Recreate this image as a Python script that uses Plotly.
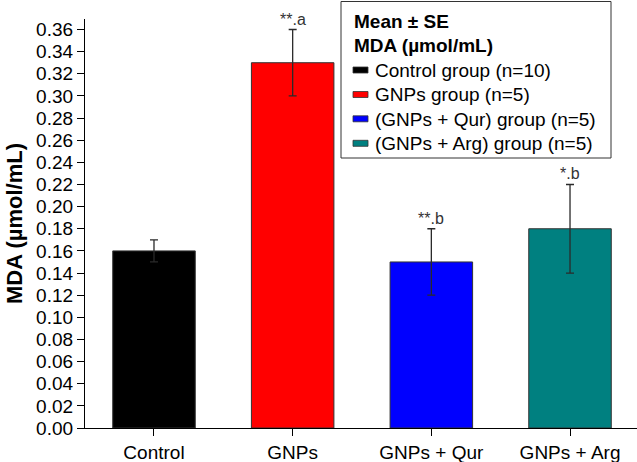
import plotly.graph_objects as go

categories = ["Control", "GNPs", "GNPs + Qur", "GNPs + Arg"]
legend_names = ["Control group (n=10)", "GNPs group (n=5)", "(GNPs + Qur) group (n=5)", "(GNPs + Arg) group (n=5)"]
legend_title = ["Mean ± SE", "MDA (µmol/mL)"]
means = [0.16, 0.33, 0.15, 0.18]
errors = [0.01, 0.03, 0.03, 0.04]
sig_labels = ["", "**.a", "**.b", "*.b"]
colors = ["#000000", "#ff0000", "#0000ff", "#008080"]
y_ticks = [round(0.02 * k, 2) for k in range(19)]

W, H = 637, 462
L, R, T, B = 85, 0, 19, 34
PW, PH = W - L - R, H - T - B

def px(x):
    return (x - L) / PW

def py(y):
    return (H - B - y) / PH

fig = go.Figure()
for i, cat in enumerate(categories):
    fig.add_trace(go.Bar(
        x=[i], y=[means[i]], name=legend_names[i], width=0.595,
        marker=dict(color=colors[i], line=dict(color="#333333", width=1)),
        error_y=dict(type="data", array=[errors[i]], visible=True,
                     color="#2a2a2a", thickness=1.3, width=4),
        showlegend=False,
    ))
    if sig_labels[i]:
        fig.add_annotation(x=i, y=means[i] + errors[i], text=sig_labels[i],
                           showarrow=False, yanchor="bottom", yshift=0,
                           font=dict(size=16, color="#333333"))

# legend box (drawn manually)
fig.add_shape(type="rect", xref="paper", yref="paper",
              x0=px(341), x1=px(611), y0=py(158), y1=py(1.5),
              line=dict(color="#333333", width=1), fillcolor="white", layer="above")
title_y = [21, 45.5]
for t, yy in zip(legend_title, title_y):
    fig.add_annotation(xref="paper", yref="paper", x=px(352), y=py(yy),
                       text="<b>" + t + "</b>", showarrow=False,
                       xanchor="left", yanchor="middle", font=dict(size=19))
row_y = [70, 94.5, 118.8, 143.3]
for name, col, yy in zip(legend_names, colors, row_y):
    fig.add_shape(type="rect", xref="paper", yref="paper",
                  x0=px(353), x1=px(368), y0=py(yy + 3), y1=py(yy - 3),
                  line=dict(color="#333333", width=0.8), fillcolor=col, layer="above")
    fig.add_annotation(xref="paper", yref="paper", x=px(373), y=py(yy + 0.5),
                       text=name, showarrow=False,
                       xanchor="left", yanchor="middle", font=dict(size=19))

fig.update_layout(
    width=W, height=H,
    margin=dict(l=L, r=R, t=T, b=B),
    plot_bgcolor="white", paper_bgcolor="white",
    font=dict(family="Liberation Sans, Arial, sans-serif", size=19, color="black"),
    showlegend=False,
    xaxis=dict(range=[-0.4975, 3.483], tickvals=list(range(len(categories))),
               ticktext=categories, showline=True, linecolor="black", linewidth=1.2,
               ticks="outside", ticklen=7, tickcolor="black", tickwidth=1.2,
               showgrid=False, zeroline=False, tickfont=dict(size=19)),
    yaxis=dict(range=[0, 0.3695], tickvals=y_ticks,
               tickformat=".2f", showline=True, linecolor="black", linewidth=1.2,
               ticks="outside", ticklen=7, tickcolor="black", tickwidth=1.2,
               showgrid=False, zeroline=False, tickfont=dict(size=19),
               title=dict(text="<b>MDA (µmol/mL)</b>", font=dict(size=22), standoff=7)),
)

fig.write_html("out.html", config={"displayModeBar": False},
               post_script="document.body.style.margin='0';document.body.style.padding='0';")
